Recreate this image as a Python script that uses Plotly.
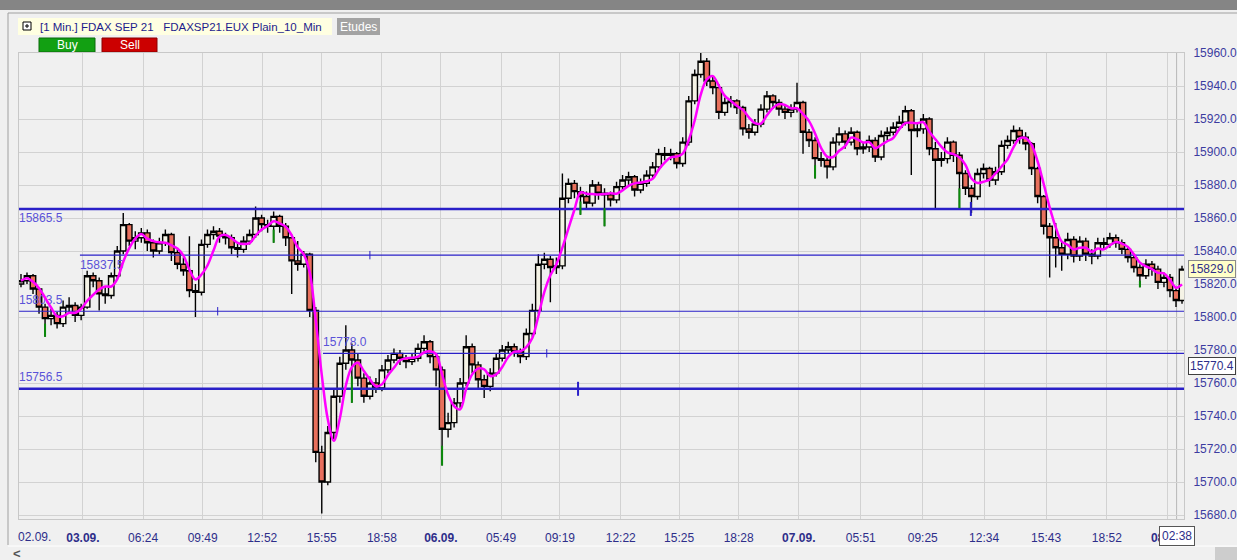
import plotly.graph_objects as go

# ---- values (one bar = one slot on the x axis) ----
bars = list(range(194))

opens = [15820, 15822, 15825, 15817, 15806, 15799, 15801, 15796, 15806, 15807,
         15801, 15806, 15825, 15822, 15814, 15813, 15825, 15840, 15856, 15846,
         15848, 15851, 15845, 15840, 15845, 15850, 15839, 15832, 15828, 15816,
         15815, 15844, 15850, 15852, 15849, 15848, 15842, 15841, 15846, 15850,
         15860, 15856, 15855, 15861, 15855, 15848, 15834, 15832, 15838, 15804,
         15718, 15700, 15730, 15752, 15772, 15780, 15774, 15763, 15752, 15760,
         15757, 15768, 15774, 15778, 15775, 15773, 15775, 15781, 15785, 15776,
         15768, 15732, 15736, 15748, 15760, 15782, 15771, 15762, 15758, 15766,
         15775, 15780, 15782, 15779, 15776, 15790, 15804, 15832, 15835, 15830,
         15831, 15872, 15881, 15876, 15873, 15869, 15880, 15875, 15874, 15871,
         15879, 15883, 15885, 15877, 15881, 15886, 15891, 15899, 15898, 15899,
         15893, 15906, 15931, 15947, 15955, 15943, 15939, 15924, 15930, 15931,
         15927, 15914, 15912, 15917, 15926, 15934, 15930, 15926, 15924, 15926,
         15930, 15912, 15907, 15896, 15895, 15891, 15906, 15911, 15906, 15912,
         15902, 15903, 15907, 15897, 15910, 15912, 15915, 15918, 15925, 15913,
         15914, 15920, 15902, 15895, 15896, 15906, 15898, 15887, 15878, 15873,
         15887, 15890, 15883, 15888, 15904, 15907, 15913, 15909, 15905, 15890,
         15873, 15855, 15848, 15842, 15838, 15847, 15837, 15846, 15838, 15837,
         15845, 15844, 15848, 15845, 15841, 15836, 15830, 15825, 15832, 15829,
         15821, 15824, 15816, 15810]

highs = [15826, 15827, 15826, 15818, 15808, 15805, 15803, 15810, 15812, 15809,
         15808, 15828, 15827, 15824, 15818, 15827, 15843, 15863, 15857, 15852,
         15854, 15853, 15847, 15848, 15853, 15851, 15841, 15836, 15849, 15820,
         15847, 15853, 15855, 15854, 15851, 15850, 15845, 15849, 15853, 15867,
         15862, 15859, 15864, 15862, 15857, 15850, 15846, 15840, 15839, 15806,
         15722, 15734, 15756, 15776, 15795, 15784, 15778, 15766, 15764, 15763,
         15771, 15777, 15781, 15780, 15777, 15778, 15784, 15789, 15786, 15778,
         15770, 15742, 15751, 15763, 15789, 15784, 15773, 15765, 15769, 15778,
         15783, 15785, 15784, 15781, 15793, 15808, 15838, 15839, 15837, 15836,
         15887, 15884, 15883, 15879, 15876, 15883, 15882, 15878, 15876, 15882,
         15886, 15888, 15886, 15884, 15889, 15894, 15902, 15903, 15902, 15900,
         15909, 15934, 15950, 15960, 15957, 15946, 15941, 15933, 15934, 15932,
         15928, 15917, 15920, 15929, 15937, 15935, 15932, 15928, 15929, 15942,
         15931, 15914, 15909, 15900, 15897, 15909, 15915, 15913, 15915, 15913,
         15906, 15910, 15909, 15913, 15915, 15918, 15922, 15928, 15926, 15918,
         15923, 15921, 15906, 15900, 15909, 15907, 15900, 15889, 15880, 15890,
         15893, 15891, 15891, 15907, 15910, 15916, 15915, 15912, 15906, 15891,
         15874, 15857, 15857, 15846, 15851, 15849, 15849, 15848, 15841, 15848,
         15848, 15851, 15850, 15847, 15843, 15838, 15832, 15835, 15834, 15831,
         15827, 15826, 15818, 15831]

lows = [15818, 15820, 15814, 15802, 15788, 15795, 15793, 15794, 15802, 15797,
        15798, 15805, 15818, 15804, 15808, 15811, 15823, 15838, 15843, 15841,
        15845, 15840, 15836, 15838, 15843, 15834, 15829, 15825, 15812, 15800,
        15813, 15842, 15847, 15845, 15844, 15838, 15836, 15839, 15844, 15848,
        15852, 15851, 15845, 15851, 15843, 15814, 15828, 15830, 15800, 15712,
        15681, 15698, 15726, 15748, 15768, 15748, 15758, 15748, 15750, 15754,
        15755, 15766, 15772, 15771, 15769, 15771, 15773, 15779, 15772, 15758,
        15710, 15727, 15733, 15745, 15758, 15766, 15757, 15751, 15755, 15764,
        15773, 15778, 15776, 15772, 15774, 15788, 15802, 15829, 15809, 15826,
        15829, 15869, 15872, 15862, 15865, 15867, 15871, 15855, 15867, 15869,
        15877, 15880, 15873, 15875, 15879, 15884, 15889, 15895, 15895, 15890,
        15891, 15904, 15929, 15945, 15940, 15935, 15920, 15922, 15927, 15923,
        15910, 15908, 15910, 15915, 15924, 15926, 15922, 15920, 15921, 15924,
        15899, 15903, 15884, 15891, 15884, 15889, 15904, 15902, 15904, 15898,
        15899, 15900, 15894, 15895, 15907, 15910, 15913, 15916, 15886, 15909,
        15911, 15898, 15866, 15891, 15893, 15894, 15866, 15874, 15863, 15871,
        15884, 15879, 15880, 15886, 15902, 15905, 15905, 15901, 15886, 15869,
        15850, 15824, 15830, 15828, 15835, 15833, 15834, 15834, 15832, 15835,
        15841, 15842, 15842, 15838, 15833, 15827, 15818, 15823, 15825, 15817,
        15818, 15812, 15806, 15808]

closes = [15822, 15825, 15817, 15806, 15799, 15801, 15796, 15806, 15807, 15801,
          15806, 15825, 15822, 15814, 15813, 15825, 15840, 15856, 15846, 15848,
          15851, 15845, 15840, 15845, 15850, 15839, 15832, 15828, 15816, 15815,
          15844, 15850, 15852, 15849, 15848, 15842, 15841, 15846, 15850, 15860,
          15856, 15855, 15861, 15855, 15848, 15834, 15832, 15838, 15804, 15718,
          15700, 15730, 15752, 15772, 15780, 15774, 15763, 15752, 15760, 15757,
          15768, 15774, 15778, 15775, 15773, 15775, 15781, 15785, 15776, 15768,
          15732, 15736, 15748, 15760, 15782, 15771, 15762, 15758, 15766, 15775,
          15780, 15782, 15779, 15776, 15790, 15804, 15832, 15835, 15830, 15831,
          15872, 15881, 15876, 15873, 15869, 15880, 15875, 15874, 15871, 15879,
          15883, 15885, 15877, 15881, 15886, 15891, 15899, 15898, 15899, 15893,
          15906, 15931, 15947, 15955, 15943, 15939, 15924, 15930, 15931, 15927,
          15914, 15912, 15917, 15926, 15934, 15930, 15926, 15924, 15926, 15930,
          15912, 15907, 15896, 15895, 15891, 15906, 15911, 15906, 15912, 15902,
          15903, 15907, 15897, 15910, 15912, 15915, 15918, 15925, 15913, 15914,
          15920, 15902, 15895, 15896, 15906, 15898, 15887, 15878, 15873, 15887,
          15890, 15883, 15888, 15904, 15907, 15913, 15909, 15905, 15890, 15873,
          15855, 15848, 15842, 15838, 15847, 15837, 15846, 15838, 15837, 15845,
          15844, 15848, 15845, 15841, 15836, 15830, 15825, 15832, 15829, 15821,
          15824, 15816, 15810, 15829]

# green tails drawn by the strategy
green_bars = [4, 42, 55, 70, 93, 97, 132, 156, 186]
green_top = [15796, 15853, 15764, 15722, 15870, 15866, 15892, 15878, 15822]
green_low = [15788, 15845, 15748, 15710, 15862, 15855, 15884, 15866, 15818]

# horizontal price levels
levels = [15865.5, 15837.5, 15803.5, 15778.0, 15756.5]
level_start = [-0.33, 9.8, -0.33, 50.2, -0.33]
level_thick = [True, False, False, False, True]
level_label_below = [True, True, False, False, False]
mark_bars = [58.0, 32.7, 87.4, 92.6, 157.9]
mark_prices = [15837.5, 15803.5, 15778.0, 15756.5, 15865.5]
mark_big = [False, False, False, True, True]

grid_bars = [10.3, 20.3, 30.2, 40.1, 50.0, 60.0, 69.8, 79.8, 89.6, 99.7,
             109.4, 119.3, 129.3, 139.6, 149.9, 160.1, 170.4, 180.5, 190.6]
grid_labels = ['<b>03.09.</b>', '06:24', '09:49', '12:52', '15:55', '18:58',
               '<b>06.09.</b>', '05:49', '09:19', '12:22', '15:25', '18:28',
               '<b>07.09.</b>', '05:51', '09:25', '12:34', '15:43', '18:52',
               '<b>08.09.</b>']
first_label = '02.09.'
first_label_bar = 2.3
price_ticks = list(range(15680, 15961, 20))

last_price = 15829.0
marker_price = 15770.4
cursor_time = '02:38'
cursor_bar = 192.1

# ---- page geometry ----
W, H = 1237, 560
PL, PR, PT, PB = 19, 1184, 53, 519
Y_MIN, Y_MAX = 15677.6, 15960.0
BG = '#f0f0f0'
NAVY = '#2e2e8a'
LEVEL = '#2a20c8'
LEVEL_TXT = '#5a52d8'
FONT = 'Liberation Sans'
LABEL_GAP = 10.5 * (Y_MAX - Y_MIN) / (PB - PT)   # 10.5 px expressed in price units


def fx(px):
    return (px - PL) / (PR - PL)


def fy(py):
    return (PB - py) / (PB - PT)


# magenta average of the closes
ma = []
for i in range(len(closes)):
    window = closes[max(0, i - 3):i + 1]
    ma.append(sum(window) / len(window))

fig = go.Figure()

for lv, st, thick, below in zip(levels, level_start, level_thick, level_label_below):
    fig.add_trace(go.Scatter(x=[st], y=[lv - LABEL_GAP if below else lv + LABEL_GAP],
                             mode='text', text=['%.1f' % lv],
                             textposition='middle right', hoverinfo='skip',
                             textfont=dict(family=FONT, size=12, color=LEVEL_TXT)))
    fig.add_trace(go.Scatter(x=[st, 193.33], y=[lv, lv], mode='lines', hoverinfo='skip',
                             line=dict(color=LEVEL, width=2.5 if thick else 1.2)))

for big in (False, True):
    fig.add_trace(go.Scatter(
        x=[b for b, m in zip(mark_bars, mark_big) if m == big],
        y=[p for p, m in zip(mark_prices, mark_big) if m == big],
        mode='markers', hoverinfo='skip',
        marker=dict(symbol='line-ns', size=10 if big else 6,
                    line=dict(color=LEVEL, width=2 if big else 1))))

fig.add_trace(go.Candlestick(
    x=bars, open=opens, high=highs, low=lows, close=closes,
    increasing=dict(fillcolor='#f5f3e6', line=dict(color='#000000', width=1.4)),
    decreasing=dict(fillcolor='#e8705c', line=dict(color='#000000', width=1.4)),
    whiskerwidth=0, hoverinfo='none'))

gx, gy = [], []
for b, t, l in zip(green_bars, green_top, green_low):
    gx += [b, b, None]
    gy += [t, l, None]
fig.add_trace(go.Scatter(x=gx, y=gy, mode='lines', hoverinfo='skip',
                         line=dict(color='#0a8a0a', width=2)))

fig.add_trace(go.Scatter(x=bars, y=ma, mode='lines', hoverinfo='skip',
                         line=dict(color='#ff00ff', width=2.5, shape='spline')))

shapes = [
    dict(type='rect', xref='paper', yref='paper', x0=fx(0), x1=fx(W), y0=fy(0), y1=fy(10),
         fillcolor='#858585', line=dict(width=0), layer='below'),
    dict(type='line', xref='paper', yref='paper', x0=fx(8), x1=fx(W), y0=fy(13), y1=fy(13),
         line=dict(color='#a0a0a0', width=1)),
    dict(type='line', xref='paper', yref='paper', x0=fx(8), x1=fx(8), y0=fy(13), y1=fy(545),
         line=dict(color='#a0a0a0', width=1)),
    dict(type='rect', xref='paper', yref='paper', x0=fx(18), x1=fx(332), y0=fy(18), y1=fy(35),
         fillcolor='#ffffe1', line=dict(width=0), layer='below'),
    dict(type='rect', xref='paper', yref='paper', x0=fx(337), x1=fx(380), y0=fy(18), y1=fy(35),
         fillcolor='#a3a3a3', line=dict(width=0), layer='below'),
    dict(type='rect', xref='paper', yref='paper', x0=fx(39), x1=fx(95), y0=fy(38), y1=fy(52),
         fillcolor='#12a012', line=dict(color='#0a6a0a', width=1), layer='below'),
    dict(type='rect', xref='paper', yref='paper', x0=fx(102), x1=fx(157), y0=fy(38), y1=fy(52),
         fillcolor='#cc0000', line=dict(color='#8a0000', width=1), layer='below'),
    dict(type='rect', xref='paper', yref='paper', x0=fx(23), x1=fx(31), y0=fy(22), y1=fy(30),
         fillcolor='#ffffff', line=dict(color='#000000', width=1)),
    dict(type='line', xref='paper', yref='paper', x0=fx(25), x1=fx(29), y0=fy(26), y1=fy(26),
         line=dict(color='#000000', width=1)),
    dict(type='line', xref='paper', yref='paper', x0=fx(27), x1=fx(27), y0=fy(24), y1=fy(28),
         line=dict(color='#000000', width=1)),
    dict(type='line', xref='paper', yref='paper', x0=fx(8), x1=fx(W), y0=fy(546), y1=fy(546),
         line=dict(color='#ffffff', width=1)),
    dict(type='rect', xref='paper', yref='paper', x0=fx(1215), x1=fx(W), y0=fy(547), y1=fy(H),
         fillcolor='#cdcdcd', line=dict(width=0)),
    dict(type='line', xref='x', yref='paper', x0=cursor_bar, x1=cursor_bar, y0=0, y1=1,
         line=dict(color='#b8b8b8', width=1), layer='below'),
]


def note(x, y, text, xref='paper', yref='paper', xanchor='center', size=12, color=NAVY, **kw):
    return dict(xref=xref, yref=yref, x=x, y=y, text=text, showarrow=False,
                xanchor=xanchor, yanchor='middle',
                font=dict(family=FONT, size=size, color=color), **kw)


annotations = [
    note(fx(38), fy(27), '[1 Min.] FDAX SEP 21   FDAXSP21.EUX Plain_10_Min', xanchor='left',
         size=11.5, color='#1c1c8c'),
    note(fx(358.5), fy(27), 'Etudes', color='#ffffff'),
    note(fx(67), fy(45), 'Buy', color='#ffffff'),
    note(fx(129.5), fy(45), 'Sell', color='#ffffff'),
    note(first_label_bar, fy(537), first_label, xref='x'),
    note(fx(17), fy(553), '<b>&lt;</b>', size=13, color='#555555'),
    note(fx(1188), last_price, '%.1f' % last_price, yref='y', xanchor='left',
         bgcolor='#ffffc8', bordercolor='#8a8a8a', borderwidth=1, borderpad=1),
    note(fx(1188), marker_price, '%.1f' % marker_price, yref='y', xanchor='left',
         bgcolor='#ffffff', bordercolor='#404040', borderwidth=1, borderpad=1),
    note(cursor_bar, fy(536), cursor_time, xref='x',
         bgcolor='#ffffff', bordercolor='#555555', borderwidth=1, borderpad=2),
]

fig.update_layout(
    width=W, height=H,
    margin=dict(l=PL, r=W - PR, t=PT, b=H - PB, autoexpand=False),
    paper_bgcolor=BG, plot_bgcolor=BG,
    showlegend=False,
    boxgap=0.1, boxgroupgap=0,
    font=dict(family=FONT, size=12, color=NAVY),
    shapes=shapes, annotations=annotations,
    xaxis=dict(range=[-0.33, 193.33], tickvals=grid_bars, ticktext=grid_labels,
               showgrid=True, gridcolor='#d2d2d2', gridwidth=1, zeroline=False,
               ticks='outside', ticklen=8, tickcolor='rgba(0,0,0,0)', automargin=False,
               showline=True, linecolor='#c8c8c8', mirror=True,
               rangeslider=dict(visible=False), fixedrange=True,
               tickfont=dict(family=FONT, size=12, color=NAVY)),
    yaxis=dict(range=[Y_MIN, Y_MAX], side='right', tickvals=price_ticks,
               ticktext=['%.1f' % p for p in price_ticks], automargin=False,
               showgrid=True, gridcolor='#d2d2d2', gridwidth=1, zeroline=False,
               ticks='outside', ticklen=6, tickcolor='rgba(0,0,0,0)',
               showline=True, linecolor='#c8c8c8', mirror=True, fixedrange=True,
               tickfont=dict(family=FONT, size=12, color='#3c3ca0')),
)

# page body without its default 8px margin, so the figure sits at the window corner
fig.write_html("out.html", config={'displayModeBar': False},
               post_script="document.body.style.margin='0';"
                           "document.body.style.background='#f0f0f0';")
